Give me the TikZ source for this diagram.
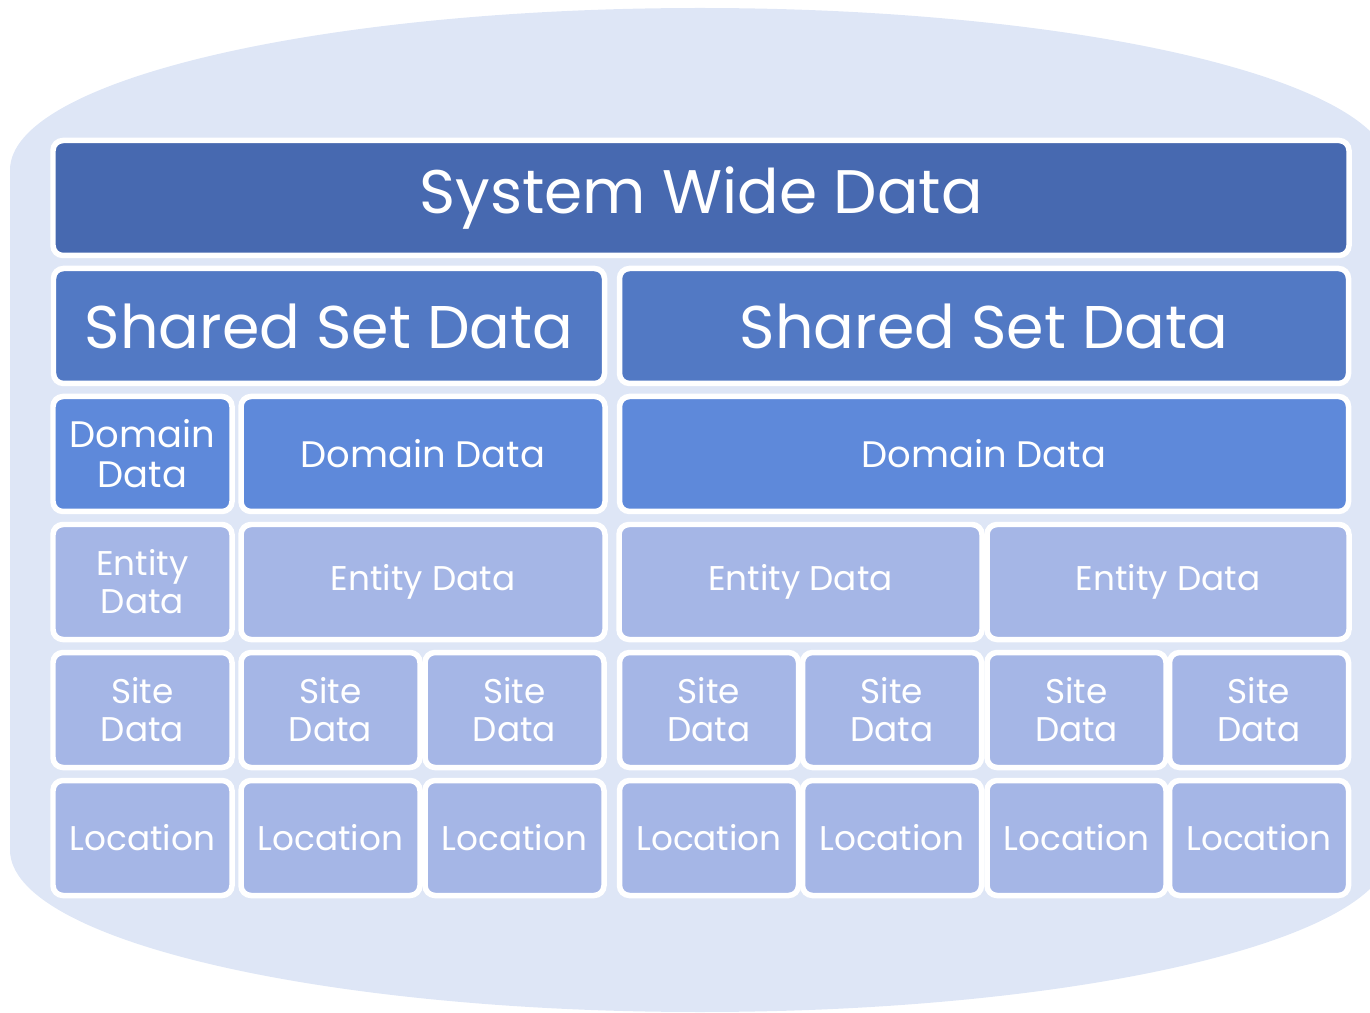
\documentclass[tikz,border=0pt]{standalone}
\usepackage{fontspec}
\setmainfont{Poppins}

\definecolor{bgblue}{RGB}{222,230,246}
\definecolor{sysblue}{RGB}{71,105,176}
\definecolor{setblue}{RGB}{82,121,196}
\definecolor{domblue}{RGB}{94,137,218}
\definecolor{lowblue}{RGB}{165,182,230}

\begin{document}
\begin{tikzpicture}[x=0.02cm, y=0.02cm,
  box/.style={rectangle, rounded corners=0.2cm, draw=white, line width=0.11cm,
    text=white, align=center, inner sep=0pt},
  cell/.style 2 args={box, minimum width=#1*0.02cm, minimum height=#2*0.02cm},
  bigtext/.style={font=\fontsize{35}{40}\selectfont},
  settext/.style={font=\fontsize{34.3}{40}\selectfont},
  midtext/.style={font=\fontsize{21}{22.8}\selectfont},
  smalltext/.style={font=\fontsize{19.5}{21.6}\selectfont}]
  % Draw the background
  \useasboundingbox (0,0) rectangle (1370,-1013);
  \fill[bgblue] (10,-170) arc[start angle=180, end angle=90, x radius=690, y radius=162]
    arc[start angle=90, end angle=0, x radius=690, y radius=162] -- (1390,-850)
    arc[start angle=0, end angle=-90, x radius=690, y radius=162]
    arc[start angle=-90, end angle=-180, x radius=690, y radius=162] -- cycle;

  % Create the nodes
  \node (system) [cell={1296}{115}, fill=sysblue, bigtext] at (701,-198) {System Wide Data};

  \node (sharedleft) [cell={551}{115}, fill=setblue, settext] at (329,-326) {Shared Set Data};
  \node (sharedright) [cell={729}{115}, fill=setblue, settext] at (984,-326) {Shared Set Data};

  \node (domain1) [cell={179}{115}, fill=domblue, midtext] at (142.5,-454) {Domain\\Data};
  \node (domain2) [cell={364}{115}, fill=domblue, midtext] at (423,-454) {Domain Data};
  \node (domain3) [cell={729}{115}, fill=domblue, midtext] at (984,-454) {Domain Data};

  \node (entity1) [cell={179}{115}, fill=lowblue, smalltext] at (142.5,-582) {Entity\\Data};
  \node (entity2) [cell={364}{115}, fill=lowblue, smalltext] at (423,-582) {Entity Data};
  \node (entity3) [cell={363}{115}, fill=lowblue, smalltext] at (800.5,-582) {Entity Data};
  \node (entity4) [cell={362}{115}, fill=lowblue, smalltext] at (1168,-582) {Entity Data};

  \foreach \x [count=\i] in {142.5, 330.5, 514.5, 709, 892, 1076.5, 1259}
  {
    \node (site\i) [cell={179}{115}, fill=lowblue, smalltext] at (\x,-710) {Site\\Data};
    \node (location\i) [cell={179}{115}, fill=lowblue, smalltext] at (\x,-838) {Location};
  }
\end{tikzpicture}
\end{document}
